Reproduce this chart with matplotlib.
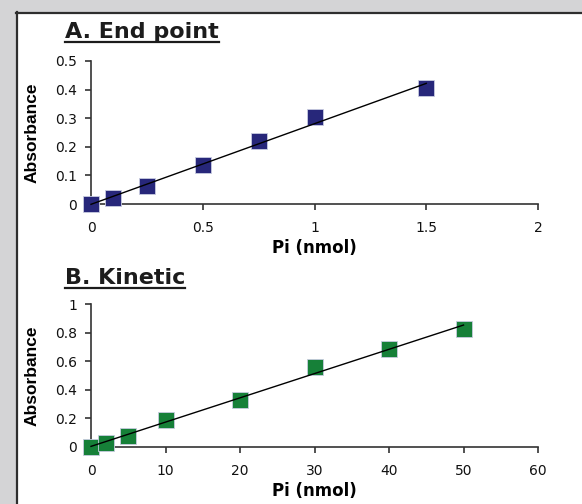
import numpy as np
import matplotlib
matplotlib.use("Agg")
import matplotlib.pyplot as plt
from matplotlib.patches import Rectangle
from matplotlib.lines import Line2D

plt.rcParams['font.family'] = ['DejaVu Sans']

# Panel A: end-point assay standard curve
endpoint_pi = [0, 0.1, 0.25, 0.5, 0.75, 1.0, 1.5]
endpoint_abs = [0.0, 0.021, 0.062, 0.136, 0.222, 0.303, 0.404]
endpoint_xticks = [0, 0.5, 1, 1.5, 2]
endpoint_xticklabels = ["0", "0.5", "1", "1.5", "2"]
endpoint_yticks = [0, 0.1, 0.2, 0.3, 0.4, 0.5]
endpoint_yticklabels = ["0", "0.1", "0.2", "0.3", "0.4", "0.5"]

# Panel B: kinetic assay standard curve
kinetic_pi = [0, 2, 5, 10, 20, 30, 40, 50]
kinetic_abs = [0.0, 0.027, 0.08, 0.187, 0.332, 0.562, 0.687, 0.824]
kinetic_xticks = [0, 10, 20, 30, 40, 50, 60]
kinetic_xticklabels = ["0", "10", "20", "30", "40", "50", "60"]
kinetic_yticks = [0, 0.2, 0.4, 0.6, 0.8, 1.0]
kinetic_yticklabels = ["0", "0.2", "0.4", "0.6", "0.8", "1"]

W, H = 582, 504
fig = plt.figure(figsize=(W / 100, H / 100), dpi=100)
fig.patch.set_facecolor("#d4d4d6")

# white card with dark top/left border
fig.add_artist(Rectangle((16 / W, 0), 1 - 16 / W, 1 - 12 / H, transform=fig.transFigure,
                         facecolor="white", edgecolor="none", zorder=0))
fig.add_artist(Line2D([17 / W, 17 / W], [0, 1 - 12 / H], transform=fig.transFigure,
                      color="#2e2e2e", lw=1.6, zorder=1))
fig.add_artist(Line2D([16 / W, 1], [1 - 13 / H, 1 - 13 / H], transform=fig.transFigure,
                      color="#2e2e2e", lw=1.6, zorder=1))

spine_col = "#333333"
titles = []


def panel(rect, x, y, color, xlim, ylim, xt, xtl, yt, ytl, title, title_y):
    ax = fig.add_axes(rect)
    ax.set_facecolor("none")
    for s in ("top", "right"):
        ax.spines[s].set_visible(False)
    for s in ("left", "bottom"):
        ax.spines[s].set_color(spine_col)
        ax.spines[s].set_linewidth(1.2)
    ax.set_xlim(*xlim)
    ax.set_ylim(*ylim)
    ax.set_xticks(xt)
    ax.set_xticklabels(xtl)
    ax.set_yticks(yt)
    ax.set_yticklabels(ytl)
    ax.tick_params(direction="out", length=4, width=1.2, color=spine_col,
                   labelsize=10, labelcolor="#111111", pad=8)
    ax.tick_params(axis="y", pad=6)

    xs = np.asarray(x, float)
    ys = np.asarray(y, float)
    slope, icpt = np.polyfit(xs, ys, 1)
    fx = np.array([xs.min(), xs.max()])
    ax.plot(xs, ys, linestyle="none", marker="s", ms=11.5, mfc=color,
            mec="#c8cce0", mew=0.6, clip_on=False, zorder=3)
    ax.plot(fx, slope * fx + icpt, color="black", lw=1.0, clip_on=False, zorder=4)

    ax.set_xlabel("Pi (nmol)", fontsize=12, fontweight="bold", labelpad=3)
    ax.set_ylabel("Absorbance", fontsize=12.5, fontweight="bold", labelpad=11,
                  family=["Liberation Sans", "DejaVu Sans"])
    t = fig.text(65 / W, title_y, title, fontsize=16, fontweight="bold",
                 color="#1c1c1c", ha="left", va="baseline")
    titles.append(t)
    return ax


ax_a = panel([91 / W, 1 - 204 / H, 447 / W, 143 / H], endpoint_pi, endpoint_abs,
             "#27277a", (0, 2), (0, 0.5), endpoint_xticks, endpoint_xticklabels,
             endpoint_yticks, endpoint_yticklabels, "A. End point", 1 - 38 / H)
ax_b = panel([91 / W, 1 - 447 / H, 447 / W, 143 / H], kinetic_pi, kinetic_abs,
             "#168038", (0, 60), (0, 1.0), kinetic_xticks, kinetic_xticklabels,
             kinetic_yticks, kinetic_yticklabels, "B. Kinetic", 1 - 284 / H)

# underline the panel titles
fig.canvas.draw()
r = fig.canvas.get_renderer()
for t in titles:
    bb = t.get_window_extent(r)
    base = t.get_position()[1] * H
    yline = (base - 4) / H
    fig.add_artist(Line2D([bb.x0 / W, bb.x1 / W], [yline, yline], transform=fig.transFigure,
                          color="#1c1c1c", lw=1.6))

fig.savefig("out.png", dpi=100, facecolor=fig.get_facecolor())
